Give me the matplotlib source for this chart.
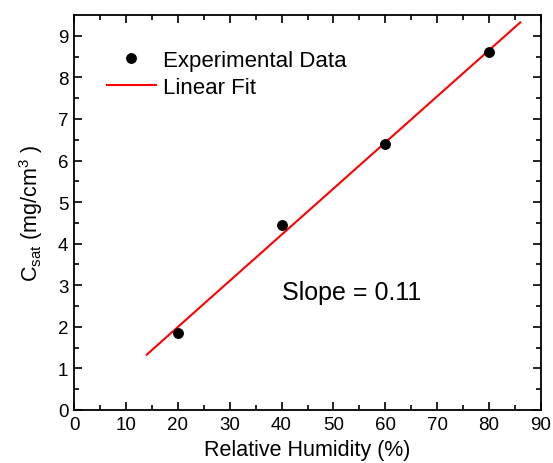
import matplotlib.pyplot as plt
import numpy as np

plt.rcParams['font.family'] = ['Liberation Sans', 'DejaVu Sans']
plt.rcParams['mathtext.fontset'] = 'custom'
plt.rcParams['mathtext.rm'] = 'Liberation Sans'
plt.rcParams['mathtext.it'] = 'Liberation Sans'

# data
humidity = [20, 40, 60, 80]
c_sat = [1.85, 4.45, 6.4, 8.6]
fit_range = [14, 86]

fig = plt.figure(figsize=(5.53, 4.64), dpi=100)
ax = fig.add_axes([74 / 553, 53 / 464, 467 / 553, 395 / 464])

# linear fit through the data
k, b = np.polyfit(humidity, c_sat, 1)
xf = np.array(fit_range)
ax.plot(xf, k * xf + b, color='red', lw=1.5, label='Linear Fit', zorder=2)
ax.plot(humidity, c_sat, 'o', color='black', ms=6.8, label='Experimental Data', zorder=3)

ax.set_xlim(0, 90)
ax.set_ylim(0, 9.5)
ax.set_xticks(np.arange(0, 91, 10))
ax.set_xticks(np.arange(5, 90, 10), minor=True)
ax.set_yticks(np.arange(0, 10, 1))
ax.set_yticks(np.arange(0.5, 9.5, 1), minor=True)
ax.tick_params(which='both', direction='in', top=True, right=True, labelsize=13.5, width=1.2)
ax.tick_params(which='major', length=6, pad=4)
ax.tick_params(which='minor', length=3.5)
for s in ax.spines.values():
    s.set_linewidth(1.3)

ax.set_xlabel('Relative Humidity (%)', fontsize=15.5, labelpad=5)
ax.set_ylabel(r'C$_{\mathrm{sat}}$ (mg/cm$^{\mathrm{3}}$ )', fontsize=15.5, labelpad=9)

h, l = ax.get_legend_handles_labels()
ax.legend(h[::-1], l[::-1], loc='upper left', frameon=False, fontsize=16,
          bbox_to_anchor=(0.051, 0.935), borderaxespad=0, handlelength=2.2,
          handletextpad=0.35, labelspacing=0.28)

ax.text(0.445, 0.299, 'Slope = 0.11', transform=ax.transAxes, fontsize=18, va='center')

fig.savefig('out.png', dpi=100)
